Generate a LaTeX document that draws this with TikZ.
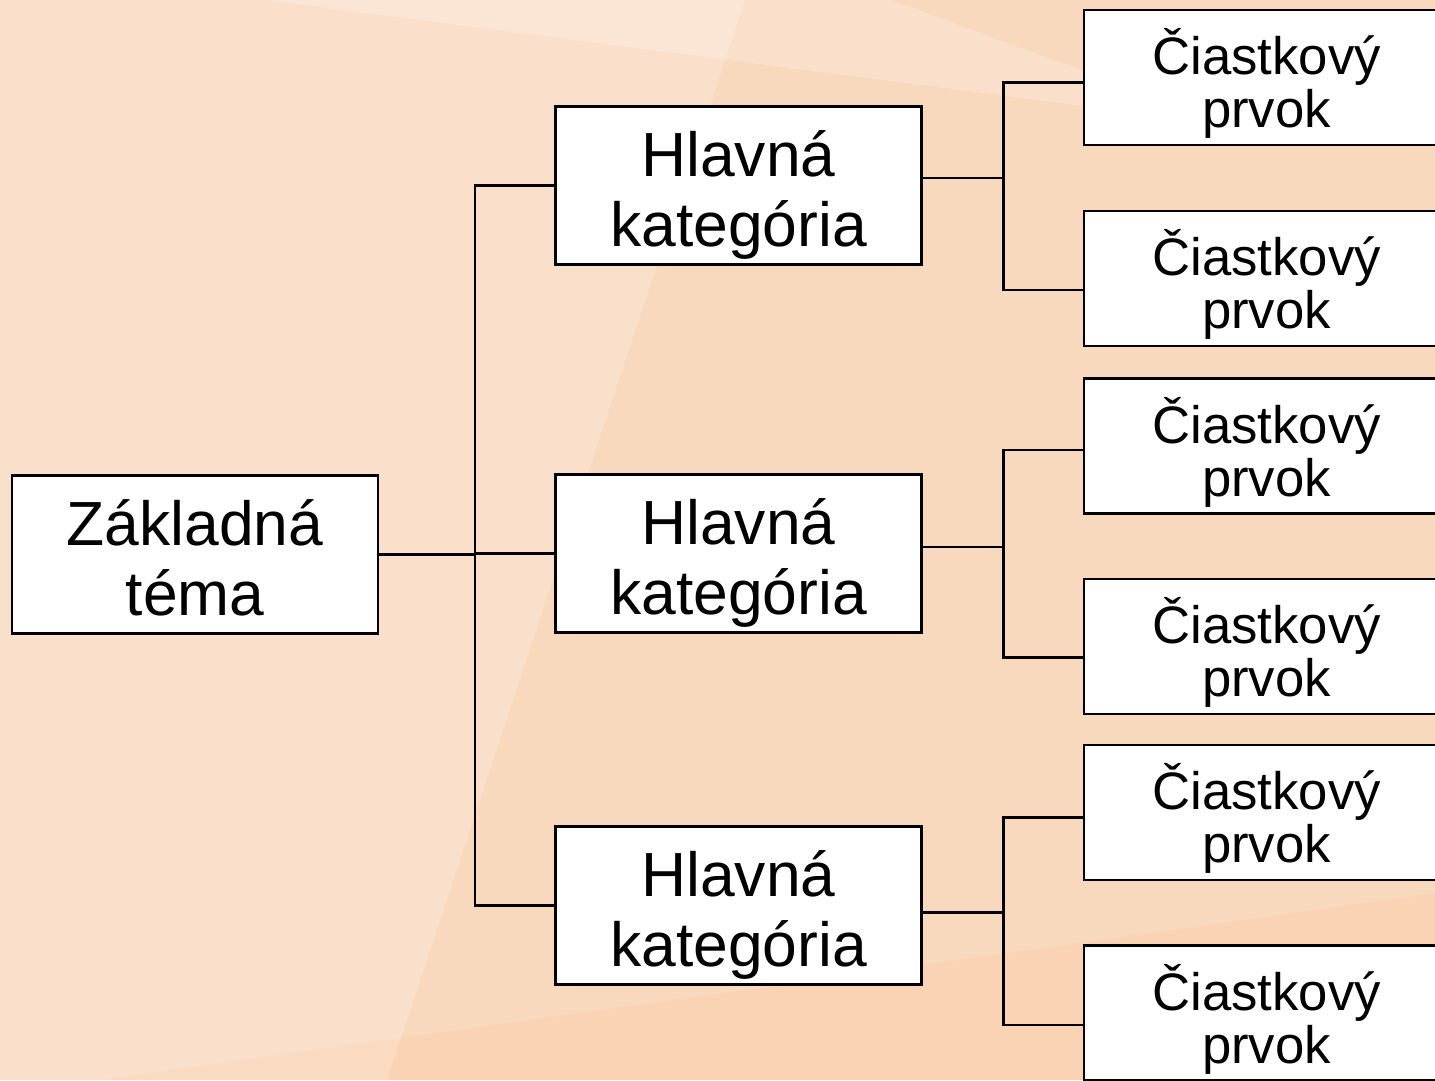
\documentclass[tikz,border=0pt]{standalone}
\usepackage{fontspec}
\setmainfont{Liberation Sans}
\usetikzlibrary{calc}

\definecolor{peach}{HTML}{F9D3B3}

\begin{document}
\begin{tikzpicture}[
    x=0.02cm, y=-0.02cm,
    box/.style={rectangle, draw, fill=white, line width=1.2pt, inner sep=0pt, align=center, text depth=0pt},
    bigbox/.style={box, minimum width=7.32cm, minimum height=3.16cm, text height=69.6pt, font=\fontsize{35.5}{40}\selectfont},
    smallbox/.style={box, minimum width=7.32cm, minimum height=2.70cm, text height=57pt, font=\fontsize{30}{30}\selectfont},
    link/.style={line width=1.2pt},
    glow/.style={white, fill opacity=0.2}
]
% Pozadie
\path[use as bounding box, clip] (0,0) rectangle (1435,1080);
\fill[peach] (0,0) rectangle (1435,1080);
\fill[white, fill opacity=0.15] (0,0) -- (1435,0) -- (1435,893) -- (0,1094) -- cycle;
\fill[glow] (0,0) -- (745,0) -- (387,1080) -- (0,1080) -- cycle;
\fill[glow] (266,0) -- (891,0) -- (1230,125) -- cycle;

% Uzly
\node[bigbox] (root) at (195,554.5) {Základná\\téma};
\node[bigbox] (cat1) at (738.5,185.5) {Hlavná\\kategória};
\node[bigbox] (cat2) at (738.5,553.5) {Hlavná\\kategória};
\node[bigbox] (cat3) at (738.5,905.5) {Hlavná\\kategória};

\node[smallbox] (sub1) at (1266.5,77.5) {Čiastkový\\prvok};
\node[smallbox] (sub2) at (1266.5,278.5) {Čiastkový\\prvok};
\node[smallbox] (sub3) at (1266.5,446) {Čiastkový\\prvok};
\node[smallbox] (sub4) at (1266.5,646.5) {Čiastkový\\prvok};
\node[smallbox] (sub5) at (1266.5,812.5) {Čiastkový\\prvok};
\node[smallbox] (sub6) at (1266.5,1013) {Čiastkový\\prvok};

% Spojnice
\draw[link] (root.east) -- ++(96,0) coordinate (trunk) |- (cat1.west);
\draw[link] (trunk) |- (cat2.west);
\draw[link] (trunk) |- (cat3.west);

\draw[link] ([yshift=0.15cm]cat1.east) -- ++(81,0) coordinate (bus1) |- ([yshift=-0.1cm]sub1.west);
\draw[link] (bus1) |- ([yshift=-0.23cm]sub2.west);
\draw[link] ([yshift=0.13cm]cat2.east) -- ++(81,0) coordinate (bus2) |- ([yshift=-0.08cm]sub3.west);
\draw[link] (bus2) |- ([yshift=-0.22cm]sub4.west);
\draw[link] ([yshift=-0.14cm]cat3.east) -- ++(81,0) coordinate (bus3) |- ([yshift=-0.1cm]sub5.west);
\draw[link] (bus3) |- ([yshift=-0.24cm]sub6.west);
\end{tikzpicture}
\end{document}
